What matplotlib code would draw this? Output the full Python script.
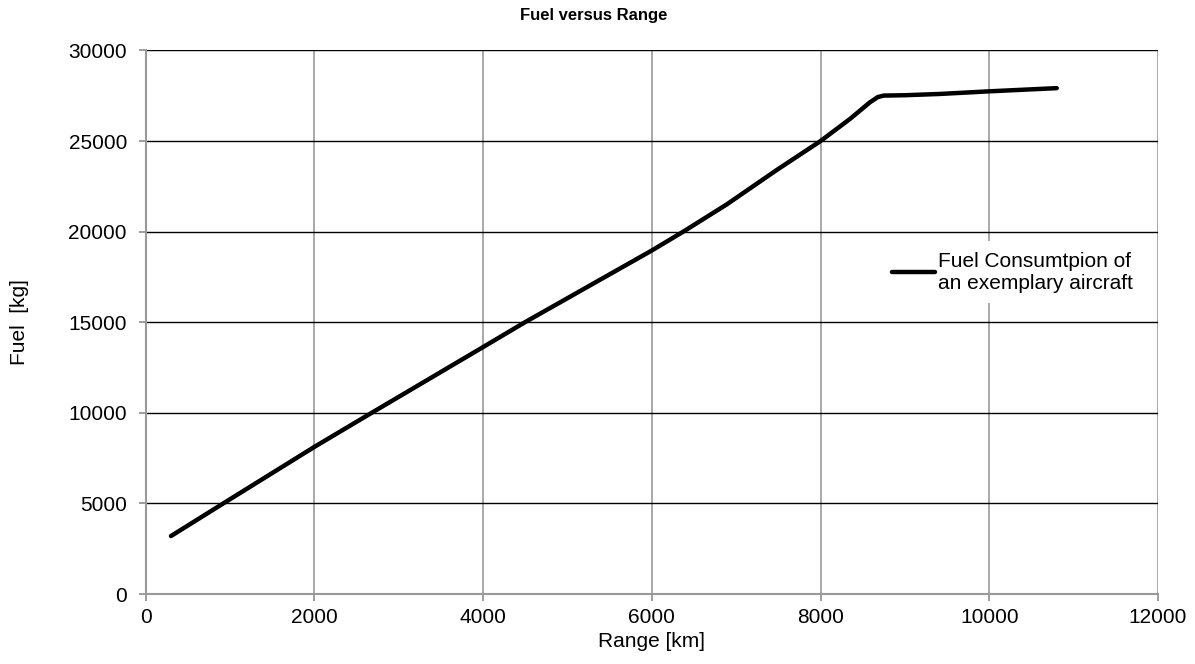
import matplotlib
matplotlib.use("Agg")
import matplotlib.pyplot as plt

range_km = [300, 920, 2000, 2679, 4000, 4496, 6000, 6373, 6887, 7480, 8000, 8349, 8586, 8680, 8750, 9000, 9416, 10000, 10800]
fuel_kg = [3200, 5000, 8120, 10000, 13630, 15000, 18960, 20000, 21500, 23400, 25000, 26220, 27140, 27430, 27510, 27530, 27600, 27745, 27920]

x_ticks = [0, 2000, 4000, 6000, 8000, 10000, 12000]
y_ticks = [0, 5000, 10000, 15000, 20000, 25000, 30000]

plt.rcParams['font.family'] = ['Liberation Sans', 'DejaVu Sans']

fig = plt.figure(figsize=(11.95, 6.64), dpi=100)
ax = fig.add_axes([0.1219, 0.1054, 0.969 - 0.1219, 0.924 - 0.1054])

ax.set_xlim(0, 12000)
ax.set_ylim(0, 30000)
ax.set_xticks(x_ticks)
ax.set_yticks(y_ticks)
ax.tick_params(labelsize=15, colors='#8c8c8c', labelcolor='black', length=5, width=1.2, pad=5)
ax.tick_params(axis='y', pad=8.5)

for y in y_ticks[1:]:
    ax.axhline(y, color='black', lw=1.0, zorder=1)
for x in x_ticks[1:]:
    ax.axvline(x, color='#999999', lw=1.2, zorder=0.5)

for s in ['top', 'right']:
    ax.spines[s].set_visible(False)
for s in ['left', 'bottom']:
    ax.spines[s].set_color('#999999')
    ax.spines[s].set_linewidth(1.5)

ax.plot(range_km, fuel_kg, color='black', lw=3.2, solid_joinstyle='round',
        solid_capstyle='round', label='Fuel Consumtpion of\nan exemplary aircraft', zorder=3)

leg = ax.legend(loc='center left', bbox_to_anchor=(0.727, 0.592), frameon=True, fontsize=15,
                handlelength=2.07, handletextpad=0.15, borderpad=0.5, labelspacing=0.2,
                borderaxespad=0)
leg.get_frame().set_edgecolor('none')
leg.get_frame().set_facecolor('white')
leg.get_frame().set_alpha(1)
leg.get_frame().set_boxstyle('square', pad=0)

ax.set_xlabel('Range [km]', fontsize=15, labelpad=4)
ax.set_ylabel('Fuel  [kg]', fontsize=15, labelpad=28)
fig.text(0.497, 0.977, 'Fuel versus Range', ha='center', va='center', fontsize=12, fontweight='bold')

fig.savefig('out.png', dpi=100)
